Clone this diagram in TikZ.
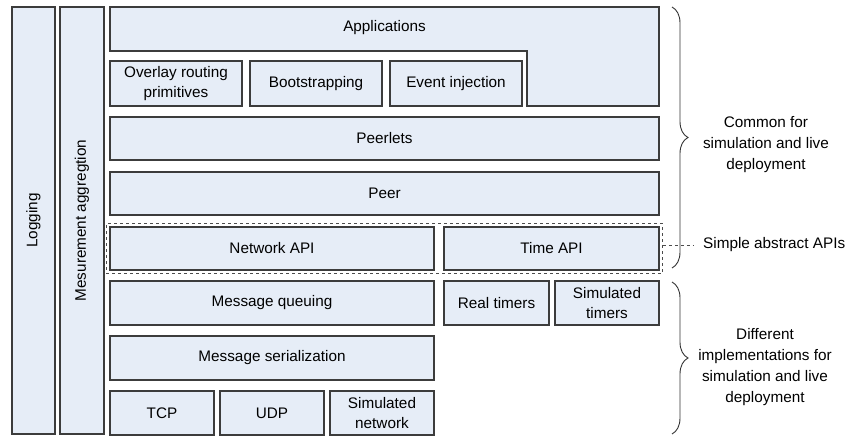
\documentclass[tikz,border=0pt]{standalone}
\usepackage{fontspec}
\setmainfont{Liberation Sans}
\usetikzlibrary{decorations.pathreplacing,fit}
\definecolor{layerfill}{HTML}{E6EDF7}
\definecolor{layerline}{HTML}{3C3C3C}
\tikzset{
  layer/.style={draw=layerline, fill=layerfill, line width=1.1pt, inner sep=0pt,
    align=center, font=\fontsize{15.3}{20.5}\selectfont},
  note/.style={align=center, font=\fontsize{15.3}{21}\selectfont},
  sidebrace/.style={decorate, decoration={brace, amplitude=16pt}, draw=black!80, line width=0.9pt}
}

\begin{document}
\begin{tikzpicture}[x=1pt, y=-1pt]
  \useasboundingbox (0,0) rectangle (846,436);

  % Vertical columns on the left
  \node[layer, minimum width=43, minimum height=427] (logging) at (33.5,220.5) {};
  \node[rotate=90, note] at (logging.center) {Logging};
  \node[layer, minimum width=44, minimum height=427] (measure) at (82,220.5) {};
  \node[rotate=90, note] at (measure.center) {Mesurement aggregtion};

  % Applications wraps round the three services
  \draw[draw=layerline, fill=layerfill, line width=1.1pt]
    (110,7) -- (659,7) -- (659,106) -- (527,106) -- (527,51) -- (110,51) -- cycle;
  \node[note] (apps) at (384.5,28) {Applications};

  % Services under the applications
  \node[layer, minimum width=132, minimum height=45] (overlay) at (176,83.5) {Overlay routing\\primitives};
  \node[layer, minimum width=132, minimum height=45] (boot) at (316,83.5) {Bootstrapping};
  \node[layer, minimum width=132, minimum height=45] (inject) at (456,83.5) {Event injection};

  % Peerlets and peer
  \node[layer, minimum width=549, minimum height=43] (peerlets) at (384.5,138.5) {Peerlets};
  \node[layer, minimum width=549, minimum height=43] (peer) at (384.5,193.5) {Peer};

  % Abstract APIs
  \node[layer, minimum width=324, minimum height=43] (netapi) at (272,248.5) {Network API};
  \node[layer, minimum width=215, minimum height=43] (timeapi) at (551.5,248.5) {Time API};
  \node[draw=black!70, dashed, line width=0.8pt, fit=(netapi)(timeapi), inner sep=3pt] (apis) {};

  % Implementations
  \node[layer, minimum width=324, minimum height=44] (queue) at (272,303) {Message queuing};
  \node[layer, minimum width=105, minimum height=44] (realtime) at (496.5,303) {Real timers};
  \node[layer, minimum width=104, minimum height=44] (simtime) at (607,303) {Simulated\\timers};
  \node[layer, minimum width=324, minimum height=44] (serial) at (272,358) {Message serialization};
  \node[layer, minimum width=104, minimum height=44] (tcp) at (162,413) {TCP};
  \node[layer, minimum width=104, minimum height=44] (udp) at (272,413) {UDP};
  \node[layer, minimum width=104, minimum height=44] (simnet) at (382,413) {Simulated\\network};

  % Braces and their labels on the right
  \coordinate (commontop) at (672,7);
  \coordinate (commonbot) at (672,268);
  \draw[sidebrace] (commontop) -- (commonbot);
  \node[note] (common) at (766,145) {Common for\\simulation and live\\deployment};

  \coordinate (difftop) at (672,282);
  \coordinate (diffbot) at (672,434);
  \draw[sidebrace] (difftop) -- (diffbot);
  \node[note] (different) at (765,367) {Different\\implementations for\\simulation and live\\deployment};

  % Label for the abstract APIs
  \node[note, anchor=west, inner sep=0pt] (apilabel) at (703,245) {Simple abstract APIs};
  \draw[dashed, draw=black!70, line width=0.8pt] (apis.east |- apilabel.west) -- ([xshift=-9pt]apilabel.west);
\end{tikzpicture}
\end{document}
